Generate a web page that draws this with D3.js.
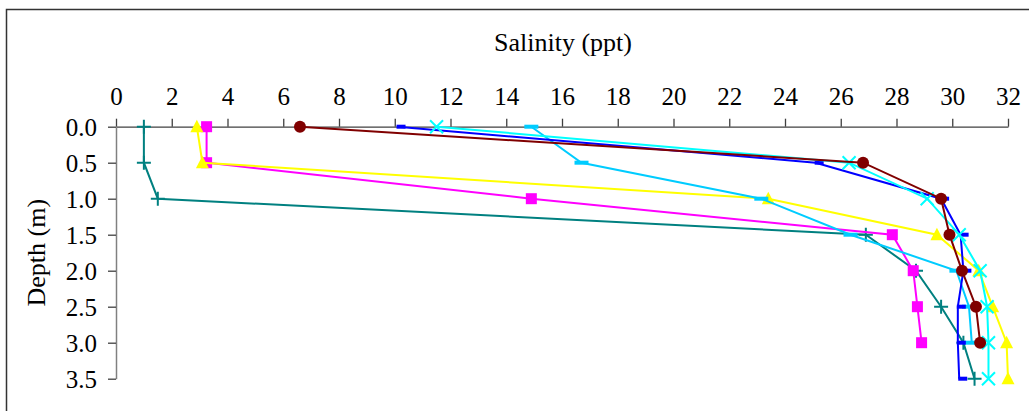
<!DOCTYPE html>
<html>
<head>
<meta charset="utf-8">
<script src="https://cdn.jsdelivr.net/npm/d3@7"></script>
<style>
  body { margin: 0; background: #fff; }
  text { font-family: "Liberation Serif", "Times New Roman", serif; fill: #000; }
</style>
</head>
<body>
<div id="chart"></div>
<script>

//////////
// Data //
//////////

// depths (m) for each reading, salinity in ppt per station
var depths = [0, 0.5, 1.0, 1.5, 2.0, 2.5, 3.0, 3.5];
var xTicks = [0, 2, 4, 6, 8, 10, 12, 14, 16, 18, 20, 22, 24, 26, 28, 30, 32];
var yTicks = [0, 0.5, 1.0, 1.5, 2.0, 2.5, 3.0, 3.5];

var tealVals    = [1.0, 1.0, 1.5, 26.9, 28.7, 29.6, 30.4, 30.8];
var magentaVals = [3.25, 3.25, 14.9, 27.85, 28.6, 28.75, 28.9];
var yellowVals  = [2.9, 3.1, 23.4, 29.45, 30.95, 31.45, 31.95, 32.0];
var skyVals     = [14.9, 16.7, 23.15, 26.35, 30.15, 30.6, 30.7];
var blueVals    = [10.1, 25.1, 29.6, 30.3, 30.4, 30.2, 30.2, 30.25];
var aquaVals    = [11.5, 26.3, 29.1, 30.25, 31.0, 31.25, 31.3, 31.3];
var maroonVals  = [6.6, 26.8, 29.6, 29.9, 30.35, 30.85, 31.0];

var series = [
  {name: "teal",    color: "#008080", marker: "plus",     values: tealVals},
  {name: "magenta", color: "#FF00FF", marker: "square",   values: magentaVals},
  {name: "yellow",  color: "#FFFF00", marker: "triangle", values: yellowVals},
  {name: "sky",     color: "#00CCFF", marker: "dash",     values: skyVals},
  {name: "blue",    color: "#0000FF", marker: "dashR",    values: blueVals},
  {name: "aqua",    color: "#00FFFF", marker: "cross",    values: aquaVals},
  {name: "maroon",  color: "#800000", marker: "circle",   values: maroonVals}
];

///////////
// Setup //
///////////

var W = 1029, H = 411;

var xScale = d3.scaleLinear().domain([0, 32]).range([116, 1008]);
var yScale = d3.scaleLinear().domain([0, 3.5]).range([126.7, 378.7]);

var svg = d3.select("#chart").append("svg")
    .attr("width", W)
    .attr("height", H);

// chart frame (runs past right and bottom edge)
svg.append("rect")
    .attr("x", 6.5).attr("y", 9.5)
    .attr("width", 1060).attr("height", 440)
    .style("fill", "#fff").style("stroke", "#333").style("stroke-width", 1.5);

//////////
// Axes //
//////////

var xAxis = d3.axisTop(xScale).tickValues(xTicks).tickSize(8).tickSizeOuter(0).tickFormat(d3.format("d"));
var yAxis = d3.axisLeft(yScale).tickValues(yTicks).tickSize(8).tickSizeOuter(0).tickFormat(d3.format(".1f"));

var gx = svg.append("g").attr("transform", "translate(0," + yScale(0) + ")").call(xAxis);
gx.select(".domain").style("stroke", "#404040").style("stroke-width", 1.3);
gx.selectAll(".tick line").style("stroke", "#404040").style("stroke-width", 1.3);
gx.selectAll(".tick text")
    .attr("y", -22).attr("dy", 0)
    .style("font-size", "25px")
    .style("font-family", "'Liberation Serif', 'Times New Roman', serif");

var gy = svg.append("g").attr("transform", "translate(" + xScale(0) + ",0)").call(yAxis);
gy.select(".domain").style("stroke", "#808080").style("stroke-width", 1.5);
gy.selectAll(".tick line").style("stroke", "#404040").style("stroke-width", 1.3);
gy.selectAll(".tick text")
    .attr("x", -19).attr("dy", "0.35em")
    .style("font-size", "25px")
    .style("font-family", "'Liberation Serif', 'Times New Roman', serif");

// axis titles
svg.append("text")
    .attr("x", 563).attr("y", 51)
    .attr("text-anchor", "middle")
    .style("font-size", "26px")
    .text("Salinity (ppt)");

svg.append("text")
    .attr("transform", "translate(45," + yScale(1.75) + ") rotate(-90)")
    .attr("text-anchor", "middle")
    .style("font-size", "26px")
    .text("Depth (m)");

///////////////////
// Lines/markers //
///////////////////

var line = d3.line()
    .x(function(d) { return xScale(d.s); })
    .y(function(d) { return yScale(d.depth); });

function points(s) {
  return s.values.map(function(v, i) { return {s: v, depth: depths[i]}; });
}

function drawMarker(g, s, p) {
  var cx = xScale(p.s), cy = yScale(p.depth);
  if (s.marker == "plus") {
    g.append("path").attr("d", "M" + (cx - 7) + "," + cy + "H" + (cx + 7) + "M" + cx + "," + (cy - 7) + "V" + (cy + 7))
        .style("stroke", s.color).style("stroke-width", 2).style("fill", "none");
  } else if (s.marker == "square") {
    g.append("rect").attr("x", cx - 5.5).attr("y", cy - 5.5).attr("width", 11).attr("height", 11)
        .style("fill", s.color);
  } else if (s.marker == "triangle") {
    g.append("path").attr("d", "M" + cx + "," + (cy - 7) + "L" + (cx + 6.5) + "," + (cy + 5.5) + "L" + (cx - 6.5) + "," + (cy + 5.5) + "Z")
        .style("fill", s.color);
  } else if (s.marker == "circle") {
    g.append("circle").attr("cx", cx).attr("cy", cy).attr("r", 6).style("fill", s.color);
  } else if (s.marker == "dash") {
    g.append("rect").attr("x", cx - 7).attr("y", cy - 2).attr("width", 14).attr("height", 4).style("fill", s.color);
  } else if (s.marker == "dashR") {
    g.append("rect").attr("x", cx - 1).attr("y", cy - 2).attr("width", 9).attr("height", 4).style("fill", s.color);
  } else if (s.marker == "cross") {
    g.append("path").attr("d", "M" + (cx - 6.5) + "," + (cy - 6.5) + "L" + (cx + 6.5) + "," + (cy + 6.5) + "M" + (cx + 6.5) + "," + (cy - 6.5) + "L" + (cx - 6.5) + "," + (cy + 6.5))
        .style("stroke", s.color).style("stroke-width", 2).style("fill", "none");
  }
}

series.forEach(function(s) {
  var g = svg.append("g").attr("class", "series " + s.name);
  var pts = points(s);
  g.append("path").datum(pts).attr("d", line)
      .style("fill", "none").style("stroke", s.color).style("stroke-width", 2);
  pts.forEach(function(p) { drawMarker(g, s, p); });
});

</script>
</body>
</html>
